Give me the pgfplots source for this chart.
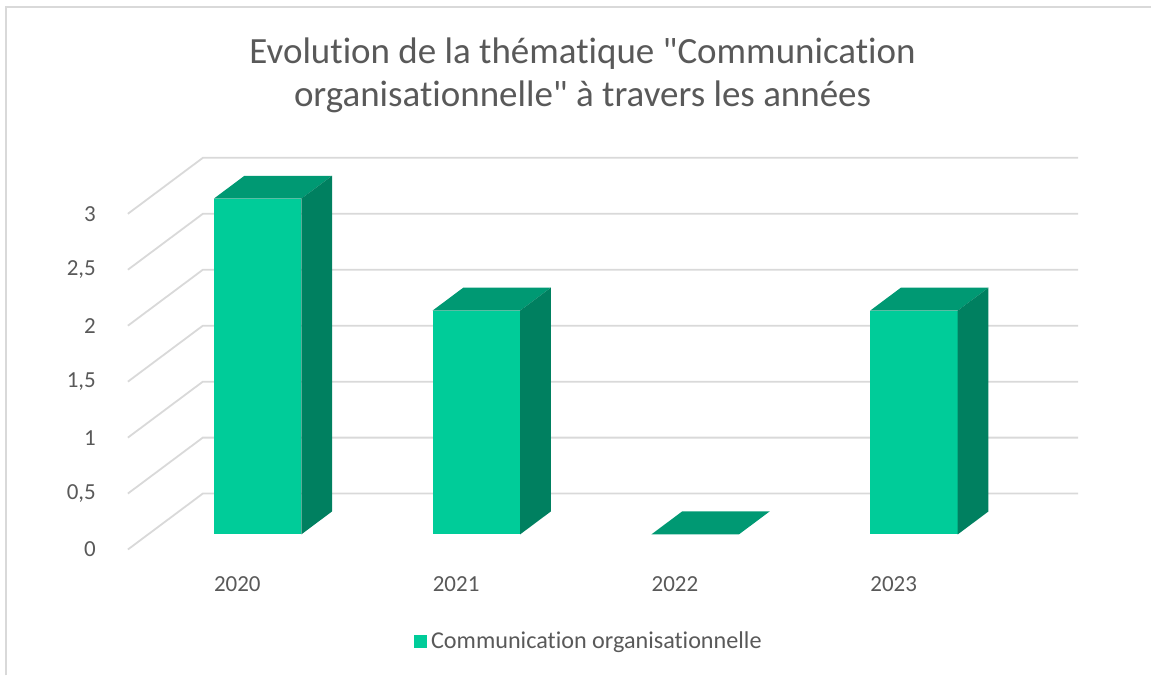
\documentclass[border=0pt]{standalone}
\usepackage{pgfplots}
\pgfplotsset{compat=1.18}
\usepackage{fontspec}
\setmainfont{Carlito}[Ligatures=NoCommon]
\definecolor{barfront}{RGB}{0,204,153}
\definecolor{bartop}{RGB}{0,153,115}
\definecolor{barside}{RGB}{0,128,96}
\definecolor{gridc}{RGB}{217,217,217}
\definecolor{txt}{RGB}{89,89,89}
\begin{document}
\begin{tikzpicture}
\begin{axis}[
  x={(109.5pt,0pt)}, y={(37.5pt,28pt)}, z={(0pt,56pt)},
  xmin=-0.5, xmax=3.5, ymin=0, ymax=1, zmin=0, zmax=3,
  hide axis, clip=false,
  legend style={at={(axis cs:1.61,0,-0.821)}, anchor=center, draw=none, fill=none,
    font=\fontsize{12.1}{14}\selectfont, text=txt, legend cell align=left,
    /tikz/every odd column/.append style={column sep=0pt}},
  legend image code/.code={\fill[barfront] (0pt,-3.4pt) rectangle (6.8pt,3.4pt);},
]
% bounding box and chart frame
\path (axis cs:-1.0845,0,4.9107) rectangle (axis cs:4.1758,0,-1.125);
\draw[gridc, line width=1pt] (axis cs:-1.0548,0,-1.125) -- (axis cs:-1.0548,0,4.8438) -- (axis cs:4.1758,0,4.8438);
% gridlines (side wall + back wall)
\pgfplotsinvokeforeach{0,0.5,1,1.5,2,2.5,3}{
  \addplot3[gridc, line width=0.9pt, forget plot] coordinates {(-0.5,0,#1) (-0.5,1,#1) (3.5,1,#1)};
}
% 2020 : 3
\addplot3[fill=barfront, draw=none] coordinates {(-0.2,0.27,0) (0.2,0.27,0) (0.2,0.27,3) (-0.2,0.27,3)};
\addlegendentry{Communication organisationnelle}
\addplot3[fill=bartop, draw=none, forget plot] coordinates {(-0.2,0.27,3) (0.2,0.27,3) (0.2,0.68,3) (-0.2,0.68,3)};
\addplot3[fill=barside, draw=none, forget plot] coordinates {(0.2,0.27,0) (0.2,0.68,0) (0.2,0.68,3) (0.2,0.27,3)};
% 2021 : 2
\addplot3[fill=barfront, draw=none, forget plot] coordinates {(0.8,0.27,0) (1.2,0.27,0) (1.2,0.27,2) (0.8,0.27,2)};
\addplot3[fill=bartop, draw=none, forget plot] coordinates {(0.8,0.27,2) (1.2,0.27,2) (1.2,0.68,2) (0.8,0.68,2)};
\addplot3[fill=barside, draw=none, forget plot] coordinates {(1.2,0.27,0) (1.2,0.68,0) (1.2,0.68,2) (1.2,0.27,2)};
% 2022 : 0
\addplot3[fill=bartop, draw=none, forget plot] coordinates {(1.8,0.27,0) (2.2,0.27,0) (2.2,0.68,0) (1.8,0.68,0)};
% 2023 : 2
\addplot3[fill=barfront, draw=none, forget plot] coordinates {(2.8,0.27,0) (3.2,0.27,0) (3.2,0.27,2) (2.8,0.27,2)};
\addplot3[fill=bartop, draw=none, forget plot] coordinates {(2.8,0.27,2) (3.2,0.27,2) (3.2,0.68,2) (2.8,0.68,2)};
\addplot3[fill=barside, draw=none, forget plot] coordinates {(3.2,0.27,0) (3.2,0.68,0) (3.2,0.68,2) (3.2,0.27,2)};
% value tick labels
\begin{scope}[every node/.style={anchor=east, xshift=-12.5pt, text=txt, font=\fontsize{11.5}{14}\selectfont}]
\node at (axis cs:-0.5,0,0) {0};
\node at (axis cs:-0.5,0,0.5) {0,5};
\node at (axis cs:-0.5,0,1) {1};
\node at (axis cs:-0.5,0,1.5) {1,5};
\node at (axis cs:-0.5,0,2) {2};
\node at (axis cs:-0.5,0,2.5) {2,5};
\node at (axis cs:-0.5,0,3) {3};
\end{scope}
% category tick labels
\begin{scope}[every node/.style={anchor=center, yshift=-17.5pt, text=txt, font=\fontsize{11.5}{14}\selectfont}]
\node at (axis cs:0,0,0) {2020};
\node at (axis cs:1,0,0) {2021};
\node at (axis cs:2,0,0) {2022};
\node at (axis cs:3,0,0) {2023};
\end{scope}
% title
\node[align=center, text=txt, font=\fontsize{18.5}{21.5}\selectfont] at (axis cs:1.578,0,4.236)
  {Evolution de la thématique \textquotedbl Communication\\organisationnelle\textquotedbl{} à travers les années};
\end{axis}
\end{tikzpicture}
\end{document}
